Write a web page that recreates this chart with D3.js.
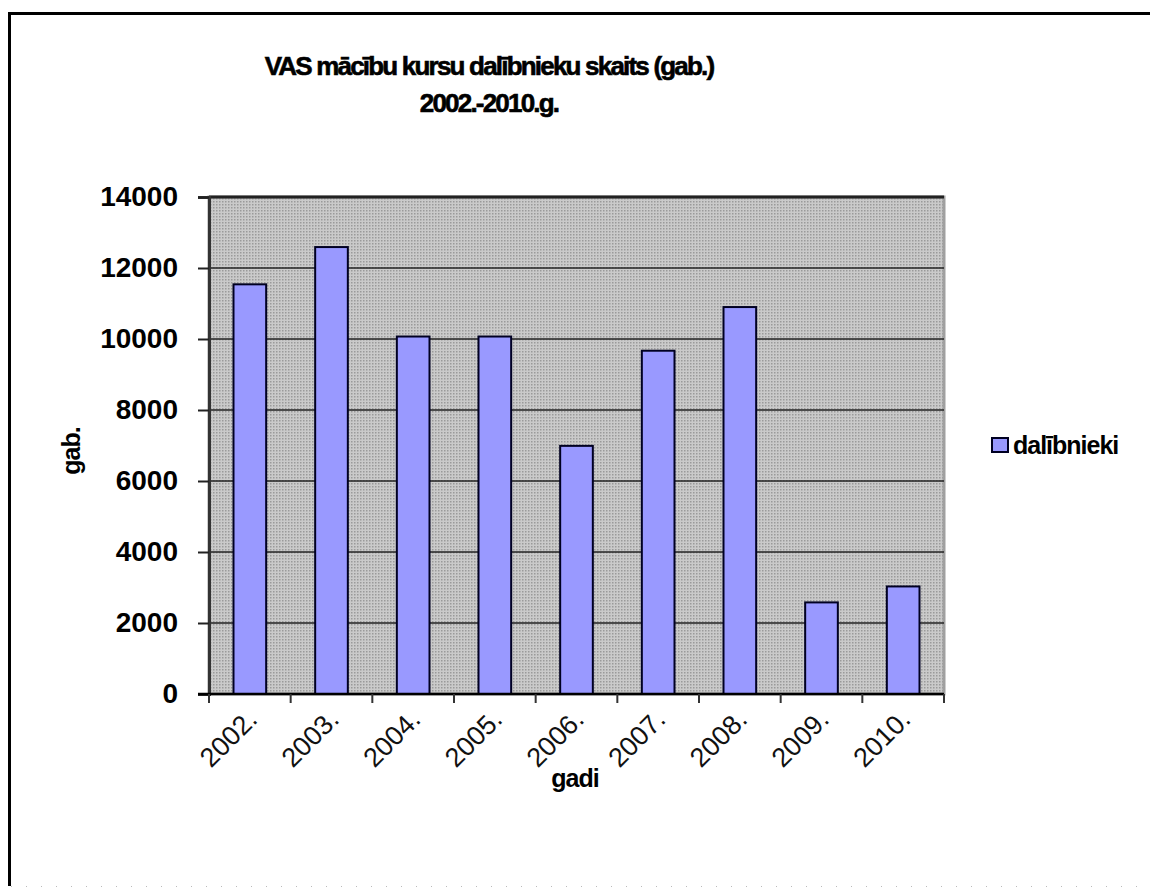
<!DOCTYPE html>
<html>
<head>
<meta charset="utf-8">
<script src="https://cdn.jsdelivr.net/npm/d3@7"></script>
<style>
  body { margin: 0; background: #fff; }
  svg { display: block; font-family: Arial, "Liberation Sans", sans-serif; }
</style>
</head>
<body>
<div id="chart"></div>
<script>
const years = ['2002.', '2003.', '2004.', '2005.', '2006.', '2007.', '2008.', '2009.', '2010.'];
const dalibnieki = [11540, 12590, 10070, 10070, 6990, 9670, 10900, 2580, 3030];
const yTicks = [0, 2000, 4000, 6000, 8000, 10000, 12000, 14000];
const titleLines = ['VAS mācību kursu dalībnieku skaits (gab.)', '2002.-2010.g.'];

const W = 1150, H = 889;
const plot = { left: 209, right: 944, top: 197, bottom: 694 };

const svg = d3.select('#chart').append('svg')
    .attr('width', W)
    .attr('height', H);

// dithered gray of the plot area
const defs = svg.append('defs');
const pat = defs.append('pattern')
    .attr('id', 'dither')
    .attr('width', 3).attr('height', 3)
    .attr('patternUnits', 'userSpaceOnUse');
pat.append('rect').attr('width', 3).attr('height', 3).attr('fill', '#cacaca');
pat.append('rect').attr('x', 0).attr('y', 0).attr('width', 1.5).attr('height', 1.5).attr('fill', '#9a9a9a');

// chart frame: black top and left, dotted bottom
svg.append('path')
    .attr('d', `M9.5,${H - 3} V13.5 H${W}`)
    .attr('fill', 'none')
    .attr('stroke', '#000')
    .attr('stroke-width', 3);
svg.append('line')
    .attr('x1', 11).attr('x2', W).attr('y1', H - 2.5).attr('y2', H - 2.5)
    .attr('stroke', '#bbb').attr('stroke-dasharray', '1,14');

const x = d3.scaleBand()
    .domain(years)
    .range([plot.left, plot.right])
    .paddingInner(0.6)
    .paddingOuter(0.3);

const y = d3.scaleLinear()
    .domain([0, 14000])
    .range([plot.bottom, plot.top]);

// plot area
svg.append('rect')
    .attr('x', plot.left).attr('y', plot.top)
    .attr('width', plot.right - plot.left)
    .attr('height', plot.bottom - plot.top)
    .attr('fill', 'url(#dither)')
    .attr('stroke', '#a0a0a0')
    .attr('stroke-width', 3);

// gridlines
svg.append('g').selectAll('line')
    .data(yTicks.filter(d => d > 0))
    .join('line')
    .attr('x1', plot.left).attr('x2', plot.right)
    .attr('y1', d => y(d)).attr('y2', d => y(d))
    .attr('stroke', '#222')
    .attr('stroke-width', d => d === 14000 ? 3 : 1.5);

// bars
svg.append('g').selectAll('rect')
    .data(years.map((yr, i) => ({ yr, v: dalibnieki[i] })))
    .join('rect')
    .attr('x', d => x(d.yr))
    .attr('y', d => y(d.v))
    .attr('width', x.bandwidth())
    .attr('height', d => y(0) - y(d.v))
    .attr('fill', '#9999ff')
    .attr('stroke', '#000022')
    .attr('stroke-width', 2);

// y axis
const yAxis = svg.append('g')
    .attr('transform', `translate(${plot.left},0)`)
    .call(d3.axisLeft(y).tickValues(yTicks).tickSize(11).tickPadding(20).tickFormat(d3.format('d')));
yAxis.select('.domain').attr('stroke', '#333').attr('stroke-width', 3);
yAxis.selectAll('.tick line').attr('stroke', '#222').attr('stroke-width', 2);
yAxis.selectAll('.tick text')
    .attr('font-size', 28)
    .attr('font-weight', 'bold')
    .attr('fill', '#000')
    .attr('dy', '0.3em');

// x axis line and boundary ticks
svg.append('line')
    .attr('x1', plot.left - 11).attr('x2', plot.right)
    .attr('y1', plot.bottom).attr('y2', plot.bottom)
    .attr('stroke', '#000').attr('stroke-width', 2.5);
svg.append('g').selectAll('line')
    .data(d3.range(years.length + 1))
    .join('line')
    .attr('x1', i => plot.left + i * x.step())
    .attr('x2', i => plot.left + i * x.step())
    .attr('y1', plot.bottom).attr('y2', plot.bottom + 9)
    .attr('stroke', '#333').attr('stroke-width', 2);

// x labels, rotated
svg.append('g').selectAll('text')
    .data(years)
    .join('text')
    .attr('transform', d => `translate(${x(d) + x.bandwidth() / 2 + 9},${plot.bottom + 27}) rotate(-45)`)
    .attr('text-anchor', 'end')
    .attr('font-size', 27)
    .attr('fill', '#111')
    .text(d => d);

// title
svg.append('g').selectAll('text')
    .data(titleLines)
    .join('text')
    .attr('x', 489)
    .attr('y', (d, i) => 75 + i * 37)
    .attr('text-anchor', 'middle')
    .attr('font-size', 26)
    .attr('font-weight', 'bold')
    .attr('letter-spacing', -1.8)
    .attr('stroke', '#000')
    .attr('stroke-width', 0.6)
    .text(d => d);

// axis titles
svg.append('text')
    .attr('x', 575).attr('y', 787)
    .attr('text-anchor', 'middle')
    .attr('font-size', 25)
    .attr('font-weight', 'bold')
    .attr('letter-spacing', -1)
    .text('gadi');

svg.append('text')
    .attr('transform', 'translate(80,451) rotate(-90)')
    .attr('text-anchor', 'middle')
    .attr('font-size', 25)
    .attr('font-weight', 'bold')
    .attr('letter-spacing', -1)
    .text('gab.');

// legend
const legend = svg.append('g').attr('transform', 'translate(992,438)');
legend.append('rect')
    .attr('width', 16).attr('height', 14)
    .attr('fill', '#9999ff')
    .attr('stroke', '#000022')
    .attr('stroke-width', 2);
legend.append('text')
    .attr('x', 21).attr('y', 16)
    .attr('font-size', 25)
    .attr('font-weight', 'bold')
    .attr('letter-spacing', -1)
    .text('dalībnieki');
</script>
</body>
</html>
